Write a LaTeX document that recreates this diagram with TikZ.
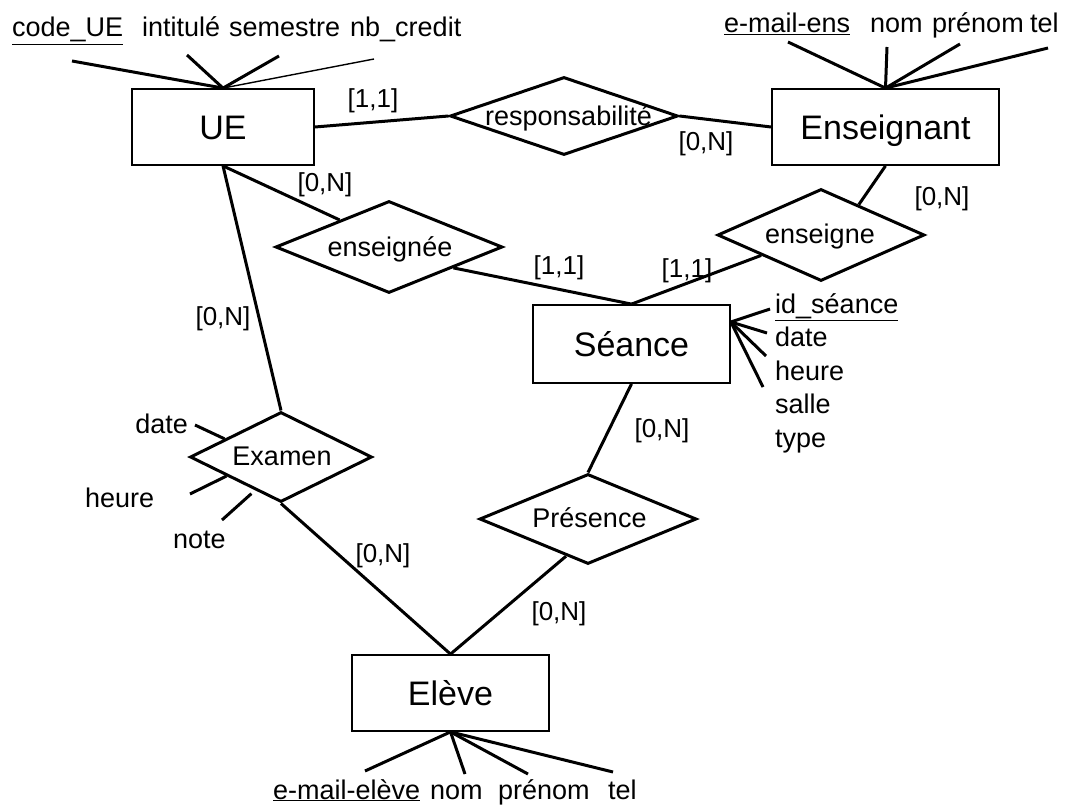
\documentclass[tikz,border=0pt]{standalone}
\usepackage{fontspec}
\setmainfont{Liberation Sans}
\usetikzlibrary{shapes.geometric,calc}

\begin{document}
\begin{tikzpicture}[x=1pt,y=-1pt,
  entity/.style={draw, line width=1.8pt, rectangle, inner sep=0pt,
    font=\fontsize{34}{40}\selectfont, text height=24.5pt, text depth=0pt},
  relation/.style={draw, line width=3pt, diamond, inner sep=0pt},
  rname/.style={font=\fontsize{27}{32}\selectfont, text height=19.4pt, text depth=0pt, inner sep=0pt},
  card/.style={font=\fontsize{26}{32}\selectfont, text height=18.7pt, text depth=0pt, inner sep=0pt},
  attr/.style={font=\fontsize{27}{32}\selectfont, inner sep=0pt, anchor=base west},
  attrr/.style={font=\fontsize{27}{32}\selectfont, inner sep=0pt, anchor=base east},
  link/.style={line width=3pt},
  alink/.style={line width=3pt},
  thinlink/.style={line width=1.4pt},
]
\useasboundingbox (0,0) rectangle (1070,805);

% entities
\node[entity, minimum width=182, minimum height=76] (ue)  at (223,127)   {UE};
\node[entity, minimum width=227, minimum height=76] (ens) at (885.5,127) {Enseignant};
\node[entity, minimum width=197, minimum height=78] (sea) at (631.5,344) {Séance};
\node[entity, minimum width=197, minimum height=76] (elv) at (450.5,693) {Elève};

% relationships
\node[relation, minimum width=228, minimum height=78] (resp) at (564,116) {};
\node[relation, minimum width=227, minimum height=92] (ensd) at (389,247) {};
\node[relation, minimum width=207, minimum height=92] (ensg) at (821,235) {};
\node[relation, minimum width=182, minimum height=90] (exam) at (281,457) {};
\node[relation, minimum width=217, minimum height=90] (pres) at (588,519) {};

\node[rname] (resp-t) at (568.5,116) {responsabilité};
\node[rname] (ensd-t) at (390,247)   {enseignée};
\node[rname] (ensg-t) at (820,234)   {enseigne};
\node[rname] (exam-t) at (282,456)   {Examen};
\node[rname] (pres-t) at (589.5,518) {Présence};

% links between entities and relationships
\draw[link] (ue.east) -- (resp.west);
\draw[link] (resp.east) -- (ens.west);
\draw[link] (ens.south) -- ($(ensg.north)!0.36!(ensg.east)$);
\draw[link] ($(ensg.west)!0.43!(ensg.south)$) -- (sea.north);
\draw[link] ($(ensd.east)!0.44!(ensd.south)$) -- (sea.north);
\draw[link] (ue.south) -- ($(ensd.west)!0.57!(ensd.north)$);
\draw[link] (ue.south) -- (exam.north);
\draw[link] (sea.south) -- (pres.north);
\draw[link] ($(pres.west)!0.8!(pres.south)$) -- (elv.north);
\draw[link] (exam.south) -- (elv.north);

% cardinalities
\node[card] (c1) at (373,98)  {[1,1]};
\node[card] (c2) at (706,141) {[0,N]};
\node[card] (c3) at (325,182) {[0,N]};
\node[card] (c4) at (223,316) {[0,N]};
\node[card] (c5) at (942,196) {[0,N]};
\node[card] (c6) at (559,265) {[1,1]};
\node[card] (c7) at (687,268) {[1,1]};
\node[card] (c8) at (662,428) {[0,N]};
\node[card] (c9) at (559,611) {[0,N]};
\node[card] (c10) at (383,553) {[0,N]};

% UE attributes
\node[attr] (ue-a1) at (12,37)  {\underline{code\_UE}};
\node[attr] (ue-a2) at (142,37) {intitulé};
\node[attr] (ue-a3) at (229,37) {semestre};
\node[attr] (ue-a4) at (350,37) {nb\_credit};
\coordinate (ue-p1) at (72,61);
\coordinate (ue-p2) at (187,55);
\coordinate (ue-p3) at (279,56);
\coordinate (ue-p4) at (374,59);
\draw[alink] (ue.north) -- (ue-p1);
\draw[alink] (ue.north) -- (ue-p2);
\draw[alink] (ue.north) -- (ue-p3);
\draw[thinlink] (ue.north) -- (ue-p4);

% Enseignant attributes
\node[attr] (ens-a1) at (724,33)  {\underline{e-mail-ens}};
\node[attr] (ens-a2) at (870,33)  {nom};
\node[attr] (ens-a3) at (932,33)  {prénom};
\node[attr] (ens-a4) at (1030,33) {tel};
\coordinate (ens-p1) at (788,42);
\coordinate (ens-p2) at (887,47);
\coordinate (ens-p3) at (960,44);
\coordinate (ens-p4) at (1048,48);
\foreach \p in {1,...,4} \draw[alink] (ens.north) -- (ens-p\p);

% Séance attributes
\node[attr] (sea-a1) at (775,313)   {\underline{id\_séance}};
\node[attr] (sea-a2) at (775,346.5) {date};
\node[attr] (sea-a3) at (775,380)   {heure};
\node[attr] (sea-a4) at (775,413.5) {salle};
\node[attr] (sea-a5) at (775,447)   {type};
\coordinate (sea-hub) at ([yshift=22pt]sea.east);
\coordinate (sea-p1) at (770,309);
\coordinate (sea-p2) at (767,333);
\coordinate (sea-p3) at (766,356);
\coordinate (sea-p4) at (763,387);
\foreach \p in {1,...,4} \draw[alink] (sea-hub) -- (sea-p\p);

% Examen attributes
\node[attrr] (exam-a1) at (188,433) {date};
\node[attr]  (exam-a2) at (85,507)  {heure};
\node[attr]  (exam-a3) at (173,548) {note};
\coordinate (exam-p1) at (195,425);
\coordinate (exam-p2) at (190,494);
\coordinate (exam-p3) at (222,520);
\draw[alink] ($(exam.west)!0.39!(exam.north)$) -- (exam-p1);
\draw[alink] ($(exam.west)!0.41!(exam.south)$) -- (exam-p2);
\draw[alink] ($(exam.west)!0.68!(exam.south) + (0,5)$) -- (exam-p3);

% Elève attributes
\node[attr] (elv-a1) at (273,799) {\underline{e-mail-elève}};
\node[attr] (elv-a2) at (430,799) {nom};
\node[attr] (elv-a3) at (498,799) {prénom};
\node[attr] (elv-a4) at (608,799) {tel};
\coordinate (elv-p1) at (365,771);
\coordinate (elv-p2) at (465,774);
\coordinate (elv-p3) at (528,774);
\coordinate (elv-p4) at (613,772);
\foreach \p in {1,...,4} \draw[alink] (elv.south) -- (elv-p\p);
\end{tikzpicture}
\end{document}
